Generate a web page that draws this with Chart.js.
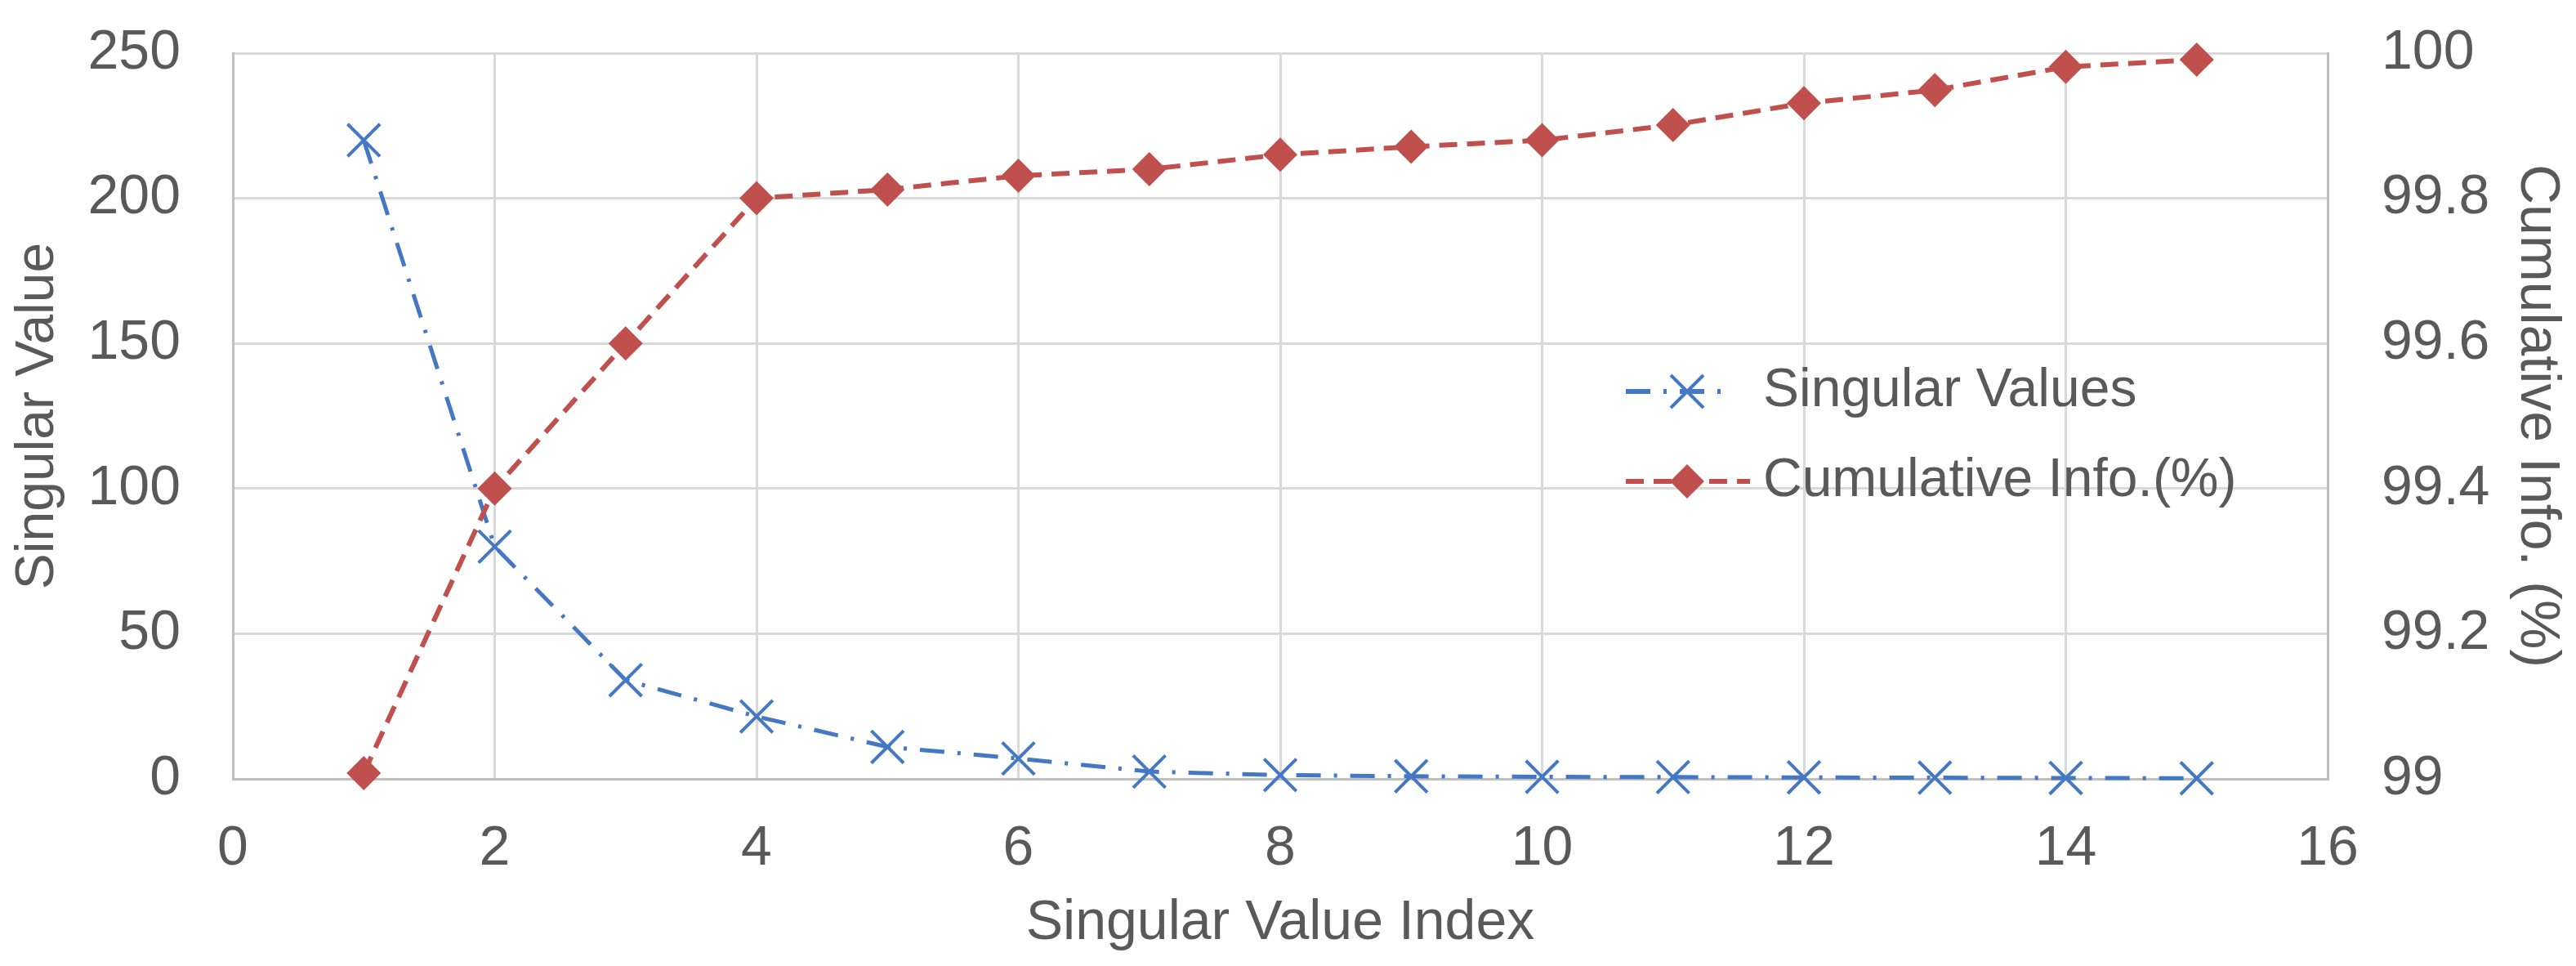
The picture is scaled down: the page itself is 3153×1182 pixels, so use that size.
<!DOCTYPE html>
<html>
<head>
<meta charset="utf-8">
<script src="https://cdn.jsdelivr.net/npm/chart.js@4/dist/chart.umd.min.js"></script>
<style>
  html, body { margin: 0; padding: 0; background: #ffffff; }
  #wrap { width: 3153px; height: 1182px; }
</style>
</head>
<body>
<div id="wrap"><canvas id="c" width="3153" height="1182"></canvas></div>
<script>
// ---- data ----
const indices = [1, 2, 3, 4, 5, 6, 7, 8, 9, 10, 11, 12, 13, 14, 15];
const singularValues = [220, 80, 34, 21.5, 11, 7, 2.5, 1.3, 0.9, 0.7, 0.6, 0.5, 0.4, 0.3, 0.2];
const cumulativeInfo = [99.008, 99.4, 99.6, 99.8, 99.812, 99.831, 99.84, 99.86, 99.871, 99.88, 99.901, 99.931, 99.949, 99.981, 99.991];
const xTicks = [0, 2, 4, 6, 8, 10, 12, 14, 16];
const leftTicks = [0, 50, 100, 150, 200, 250];
const rightTicks = [99, 99.2, 99.4, 99.6, 99.8, 100];
const seriesNames = ['Singular Values', 'Cumulative Info.(%)'];
const axisTitles = { x: 'Singular Value Index', left: 'Singular Value', right: 'Cumulative Info. (%)' };

const BLUE = '#4477c4';
const RED = '#c0504d';
const GRID = '#d9d9d9';
const AXIS = '#bfbfbf';
const TEXT = '#595959';
const FONT = '"Liberation Sans", Arial, sans-serif';
const blueDash = [30, 16, 4, 16];
const redDash = [22, 12];

function pts(ys) { return indices.map((x, i) => ({ x: x, y: ys[i] })); }
function fixTicks(arr) { return function (scale) { scale.ticks = arr.map(v => ({ value: v })); }; }

const legendPlugin = {
  id: 'customLegend',
  afterDraw(chart) {
    const ctx = chart.ctx;
    const entries = [
      { name: seriesNames[0], color: BLUE, dash: blueDash, y: 479, x0: 1990, x1: 2115, mx: 2065, marker: 'x' },
      { name: seriesNames[1], color: RED, dash: redDash, y: 589, x0: 1990, x1: 2142, mx: 2065, marker: 'diamond' }
    ];
    ctx.save();
    entries.forEach(e => {
      ctx.strokeStyle = e.color;
      ctx.lineWidth = 6;
      ctx.setLineDash(e.dash);
      ctx.beginPath();
      ctx.moveTo(e.x0, e.y);
      ctx.lineTo(e.x1, e.y);
      ctx.stroke();
      ctx.setLineDash([]);
      if (e.marker === 'x') {
        const r = 20;
        ctx.lineWidth = 4;
        ctx.beginPath();
        ctx.moveTo(e.mx - r, e.y - r); ctx.lineTo(e.mx + r, e.y + r);
        ctx.moveTo(e.mx - r, e.y + r); ctx.lineTo(e.mx + r, e.y - r);
        ctx.stroke();
      } else {
        const r = 21;
        ctx.fillStyle = e.color;
        ctx.beginPath();
        ctx.moveTo(e.mx, e.y - r); ctx.lineTo(e.mx + r, e.y);
        ctx.lineTo(e.mx, e.y + r); ctx.lineTo(e.mx - r, e.y);
        ctx.closePath();
        ctx.fill();
      }
      ctx.fillStyle = TEXT;
      ctx.font = '66px ' + FONT;
      ctx.textBaseline = 'middle';
      ctx.textAlign = 'left';
      ctx.fillText(e.name, 2158, e.y);
    });
    ctx.restore();
  }
};

new Chart(document.getElementById('c'), {
  type: 'line',
  data: {
    datasets: [
      {
        label: seriesNames[0],
        data: pts(singularValues),
        yAxisID: 'y',
        borderColor: BLUE,
        backgroundColor: BLUE,
        borderWidth: 5,
        borderDash: blueDash,
        pointStyle: 'crossRot',
        pointRadius: 28,
        pointBorderWidth: 4,
        pointBorderColor: BLUE,
        tension: 0,
        clip: false,
        order: 1
      },
      {
        label: seriesNames[1],
        data: pts(cumulativeInfo),
        yAxisID: 'y1',
        borderColor: RED,
        backgroundColor: RED,
        borderWidth: 6,
        borderDash: redDash,
        pointStyle: 'rectRot',
        pointRadius: 21,
        pointBorderWidth: 0,
        pointBackgroundColor: RED,
        tension: 0,
        clip: false,
        order: 0
      }
    ]
  },
  options: {
    responsive: false,
    animation: false,
    devicePixelRatio: 1,
    layout: { padding: { top: 65, left: 0, right: 0, bottom: 0 } },
    plugins: { legend: { display: false }, tooltip: { enabled: false } },
    scales: {
      x: {
        type: 'linear',
        min: 0, max: 16,
        afterBuildTicks: fixTicks(xTicks),
        afterFit(scale) { scale.height = 229; },
        grid: { color: GRID, lineWidth: 3, drawTicks: false },
        border: { color: AXIS, width: 3 },
        ticks: { color: TEXT, font: { family: FONT, size: 68 }, padding: 45, maxRotation: 0 },
        title: { display: true, text: axisTitles.x, color: TEXT, font: { family: FONT, size: 68 }, padding: { top: 0, bottom: 11 } }
      },
      y: {
        type: 'linear',
        position: 'left',
        min: 0, max: 250,
        afterBuildTicks: fixTicks(leftTicks),
        afterFit(scale) { scale.width = 285; },
        grid: { color: GRID, lineWidth: 3, drawTicks: true, tickLength: 64, tickColor: 'rgba(0,0,0,0)' },
        border: { color: AXIS, width: 3 },
        ticks: { color: TEXT, font: { family: FONT, size: 68 }, padding: 0 },
        title: { display: true, text: axisTitles.left, color: TEXT, font: { family: FONT, size: 66 }, padding: { top: 7, bottom: 0 } }
      },
      y1: {
        type: 'linear',
        position: 'right',
        min: 99, max: 100,
        afterBuildTicks: fixTicks(rightTicks),
        afterFit(scale) { scale.width = 304; },
        grid: { display: true, drawOnChartArea: false, drawTicks: true, tickLength: 66, tickColor: 'rgba(0,0,0,0)' },
        border: { color: AXIS, width: 3 },
        ticks: {
          color: TEXT, font: { family: FONT, size: 68 }, padding: 0,
          callback: v => String(Number(v.toFixed(1)))
        },
        title: { display: true, text: axisTitles.right, color: TEXT, font: { family: FONT, size: 68 }, padding: { top: 7, bottom: 0 } }
      }
    }
  },
  plugins: [legendPlugin]
});
</script>
</body>
</html>
